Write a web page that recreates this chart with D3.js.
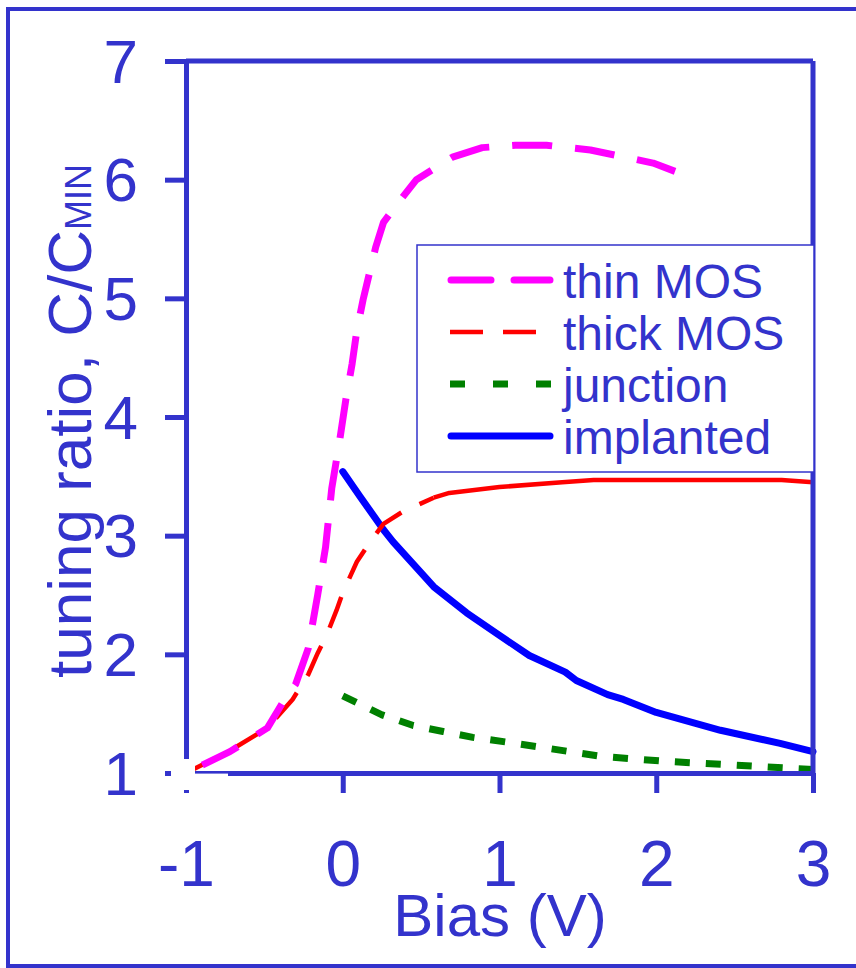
<!DOCTYPE html>
<html><head><meta charset="utf-8">
<script src="https://cdn.jsdelivr.net/npm/d3@7"></script>
<style>body{margin:0;background:#fff}</style>
</head><body>
<svg id="c" width="856" height="968"></svg>
<script>
// ---- data ----
const xTicks = [-1, 0, 1, 2, 3];
const yTicks = [1, 2, 3, 4, 5, 6, 7];

const thinX = [-1, -0.72, -0.48, -0.38, -0.30, -0.22, -0.16, -0.11, -0.07, -0.02, 0.02, 0.06, 0.09, 0.13, 0.17, 0.21, 0.26, 0.35, 0.47, 0.70, 0.89, 1.10, 1.30, 1.58, 1.98, 2.12];
const thinY = [1.0, 1.18, 1.38, 1.6, 1.75, 2.05, 2.5, 2.9, 3.4, 3.8, 4.15, 4.45, 4.73, 4.99, 5.21, 5.43, 5.64, 5.8, 6.0, 6.19, 6.27, 6.29, 6.29, 6.25, 6.14, 6.07];

const thickX = [-1, -0.73, -0.48, -0.32, -0.22, -0.16, -0.10, -0.04, 0.0, 0.09, 0.17, 0.26, 0.38, 0.58, 0.68, 1.0, 1.4, 1.6, 2.0, 2.5, 2.8, 3.0];
const thickY = [1.0, 1.18, 1.38, 1.62, 1.83, 2.01, 2.17, 2.37, 2.52, 2.78, 2.94, 3.1, 3.2, 3.32, 3.36, 3.41, 3.45, 3.47, 3.47, 3.47, 3.47, 3.45];

const juncX = [0, 0.25, 0.45, 0.64, 0.83, 1.05, 1.25, 1.45, 1.65, 2.04, 2.45, 2.85, 3.0];
const juncY = [1.65, 1.49, 1.40, 1.35, 1.30, 1.26, 1.22, 1.18, 1.14, 1.10, 1.07, 1.04, 1.03];

const implX = [0, 0.11, 0.26, 0.32, 0.58, 0.79, 1.0, 1.19, 1.42, 1.49, 1.69, 1.79, 2.0, 2.41, 2.79, 3.0];
const implY = [3.54, 3.33, 3.05, 2.95, 2.57, 2.35, 2.16, 1.99, 1.85, 1.78, 1.66, 1.62, 1.51, 1.36, 1.25, 1.18];

const seriesNames = ["thin MOS", "thick MOS", "junction", "implanted"];

// ---- drawing ----
const AX = "#3333cc";
const FONT = "'Liberation Sans', Arial, sans-serif";
const svg = d3.select("#c");
const x = d3.scaleLinear().domain([-1, 3]).range([186, 813]);
const y = d3.scaleLinear().domain([1, 7]).range([773, 61]);
const zip = (xs, ys) => xs.map((v, i) => [v, ys[i]]);
const line = d3.line().x(d => x(d[0])).y(d => y(d[1]));

// outer frame
svg.append("rect").attr("x", 8).attr("y", 9).attr("width", 900).attr("height", 957)
  .attr("fill", "none").attr("stroke", AX).attr("stroke-width", 4);

// curves
const styles = [
  {color: "#ff00ff", w: 7, dash: "40,23", cap: "butt"},
  {color: "#ff0000", w: 4.5, dash: "33,20", cap: "butt"},
  {color: "#008000", w: 7, dash: "15,16", cap: "butt"},
  {color: "#0000ff", w: 7, dash: null, cap: "round"}
];
const g = svg.append("g");
function drawLine(data, st, dash, endOnDash) {
  const p = g.append("path").datum(data).attr("d", line).attr("fill", "none")
    .attr("stroke", st.color).attr("stroke-width", st.w)
    .attr("stroke-linecap", st.cap).attr("stroke-linejoin", "round")
    .attr("stroke-dasharray", dash);
  if (dash && endOnDash) {
    const parts = dash.split(",").map(Number);
    const period = parts[0] + parts[1];
    const L = p.node().getTotalLength();
    const off = (((parts[0] - L) % period) + period) % period;
    p.attr("stroke-dashoffset", off);
  }
  return p;
}
drawLine(zip(implX, implY), styles[3], null);
drawLine(zip(juncX, juncY), styles[2], styles[2].dash);
// thick MOS: dashed on the rise, solid along the plateau
const thickData = zip(thickX, thickY);
const split = thickX.indexOf(0.58);
drawLine(thickData.slice(0, split + 1), styles[1], styles[1].dash);
drawLine(thickData.slice(split), styles[1], null);
drawLine(zip(thinX, thinY), styles[0], styles[0].dash, true);

// axes
const fmt = d => String(d);
const yAxis = d3.axisLeft(y).tickValues(yTicks).tickSize(21).tickSizeOuter(0).tickPadding(27).tickFormat(fmt);
const ya = svg.append("g").attr("transform", "translate(186,0)").call(yAxis);
const xAxis = d3.axisBottom(x).tickValues(xTicks).tickSize(20).tickSizeOuter(0).tickPadding(0).tickFormat(fmt);
const xa = svg.append("g").attr("transform", "translate(0,773)").call(xAxis);
[ya, xa].forEach(a => {
  a.selectAll("path, line").attr("stroke", AX).attr("stroke-width", 5);
  a.selectAll("text").attr("fill", AX).attr("font-family", FONT);
});
ya.selectAll("text").attr("font-size", 62).attr("dy", "0.34em");
xa.selectAll("text").attr("font-size", 64).attr("y", 113).attr("dy", 0);
// top & right frame
svg.append("line").attr("x1", 186).attr("x2", 813).attr("y1", y(7)).attr("y2", y(7))
  .attr("stroke", AX).attr("stroke-width", 5);
svg.append("line").attr("x1", 813).attr("x2", 813).attr("y1", y(7)).attr("y2", y(1))
  .attr("stroke", AX).attr("stroke-width", 5);

// white patch at origin corner
svg.append("rect").attr("x", 171).attr("y", 759).attr("width", 24).attr("height", 31).attr("fill", "#fff");
svg.append("rect").attr("x", 195).attr("y", 773.6).attr("width", 33).attr("height", 4).attr("fill", "#fff");

// axis titles
svg.append("text").attr("x", 500).attr("y", 936).attr("text-anchor", "middle")
  .attr("font-family", FONT).attr("font-size", 60).attr("fill", AX).text("Bias (V)");
const yt = svg.append("text").attr("transform", "translate(91,678) rotate(-90)")
  .attr("font-family", FONT).attr("font-size", 62).attr("fill", AX);
yt.append("tspan").text("tuning ratio, C/C");
yt.append("tspan").attr("font-size", 36).text("MIN");

// legend
const leg = svg.append("g");
leg.append("rect").attr("x", 417).attr("y", 245).attr("width", 397).attr("height", 227)
  .attr("fill", "#fff").attr("stroke", AX).attr("stroke-width", 1.5);
const legDash = ["40,23", "33,20", "15,28", null];
const baselines = [298, 350, 402, 454];
seriesNames.forEach((name, i) => {
  const st = styles[i];
  leg.append("line").attr("x1", i === 0 || i === 3 ? 451 : 450).attr("x2", i === 0 || i === 3 ? 550 : 551)
    .attr("y1", baselines[i] - 18).attr("y2", baselines[i] - 18)
    .attr("stroke", st.color).attr("stroke-width", st.w)
    .attr("stroke-linecap", (i === 0 || i === 3) ? "round" : "butt")
    .attr("stroke-dasharray", legDash[i]);
  leg.append("text").attr("x", 563).attr("y", baselines[i])
    .attr("font-family", FONT).attr("font-size", 48).attr("fill", AX).text(name);
});
</script>
</body></html>
